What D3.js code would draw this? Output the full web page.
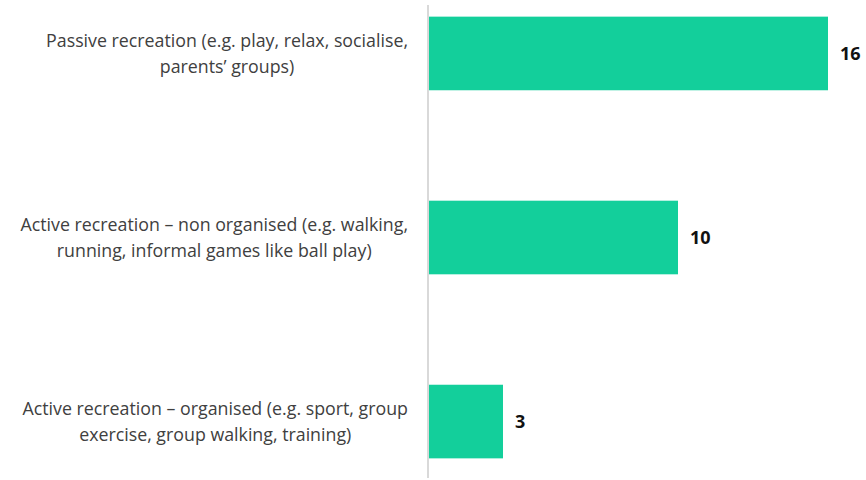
<!DOCTYPE html>
<html>
<head>
<meta charset="utf-8">
<script src="https://cdn.jsdelivr.net/npm/d3@7"></script>
<style>
  html, body { margin: 0; padding: 0; background: #ffffff; }
  svg { display: block; }
</style>
</head>
<body>
<svg id="chart" width="866" height="480"></svg>
<script>
// Activity categories (each entry is the wrapped label lines)
const categories = [
  ["Passive recreation (e.g. play, relax, socialise,", "parents\u2019 groups)"],
  ["Active recreation \u2013 non organised (e.g. walking,", "running, informal games like ball play)"],
  ["Active recreation \u2013 organised (e.g. sport, group", "exercise, group walking, training)"]
];
const values = [16, 10, 3];

const svg = d3.select("#chart");
const x0 = 428;

const keys = categories.map((c, i) => i);

const x = d3.scaleLinear().domain([0, 16]).range([x0, 828]);
const y = d3.scaleBand().domain(keys).range([1, 474]).paddingInner(0.6).paddingOuter(0.085);

// Bars
svg.append("g").selectAll("rect")
  .data(values)
  .join("rect")
  .attr("x", x(0))
  .attr("y", (d, i) => y(i))
  .attr("width", d => x(d) - x(0))
  .attr("height", y.bandwidth())
  .attr("fill", "#13cf9b");

// Category axis line
svg.append("line")
  .attr("x1", x0).attr("x2", x0)
  .attr("y1", 5).attr("y2", 478)
  .attr("stroke", "#d9d9d9")
  .attr("stroke-width", 2);

// Value labels
svg.append("g").selectAll("text")
  .data(values)
  .join("text")
  .attr("x", d => x(d) + 12)
  .attr("y", (d, i) => y(i) + y.bandwidth() / 2)
  .attr("dy", "0.35em")
  .attr("font-family", "'Open Sans', 'Noto Sans', sans-serif")
  .attr("font-weight", "bold")
  .attr("font-size", 18)
  .attr("fill", "#111")
  .text(d => d);

// Category labels: block right-aligned near the axis, lines centered in the block
const labelRight = 408;
const lineGap = 26;
const lg = svg.append("g")
  .attr("font-family", "'Open Sans', 'Noto Sans', sans-serif")
  .attr("font-size", 17.8)
  .attr("fill", "#404040");

categories.forEach((lines, i) => {
  const cy = y(i) + y.bandwidth() / 2;
  const t = lg.append("text").attr("text-anchor", "middle");
  lines.forEach((ln, j) => {
    t.append("tspan")
      .attr("x", 0)
      .attr("y", cy + lineGap * (j - (lines.length - 1) / 2))
      .attr("dy", "0.35em")
      .text(ln);
  });
  const maxW = d3.max(t.selectAll("tspan").nodes(), n => n.getComputedTextLength());
  t.selectAll("tspan").attr("x", labelRight - maxW / 2);
});
</script>
</body>
</html>
